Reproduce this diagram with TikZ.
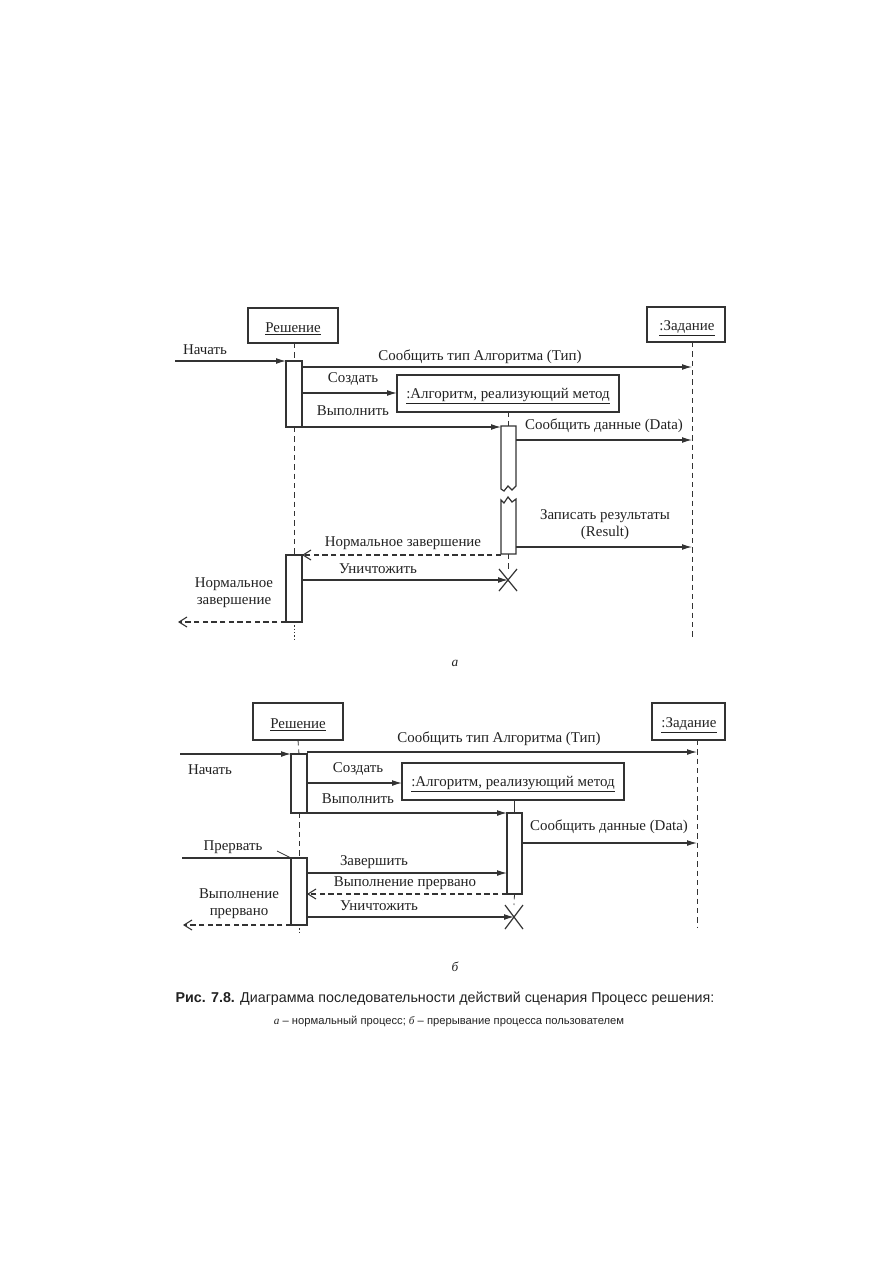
\documentclass[tikz,border=0pt]{standalone}
\usepackage{fontspec}
\setmainfont{Liberation Serif}
\newfontfamily\capfont{Liberation Sans}
\usetikzlibrary{arrows.meta,calc}
\definecolor{ink}{HTML}{333333}
\definecolor{txt}{HTML}{222222}
\begin{document}
\begin{tikzpicture}[x=0.75pt,y=-0.75pt,
  every node/.style={inner sep=0pt,outer sep=0pt,text=txt},
  lbl/.style={font=\fontsize{11.2}{12.6}\selectfont},
  objbox/.style={draw=ink,line width=1pt,font=\fontsize{11.2}{12.6}\selectfont},
  objtext/.style={font=\fontsize{11.2}{12.6}\selectfont},
  actbox/.style={draw=ink,line width=0.9pt,fill=white},
  msg/.style={draw=ink,line width=0.8pt,-{Latex[length=7.5pt,width=4.4pt]}},
  ret/.style={draw=ink,line width=0.8pt,dashed,dash pattern=on 4pt off 2.5pt,-{Straight Barb[length=6pt,width=7.5pt]}},
  plain/.style={draw=ink,line width=0.8pt},
  life/.style={draw=ink,line width=0.6pt,dash pattern=on 4pt off 3pt},
  dotlife/.style={draw=ink,line width=0.6pt,dash pattern=on 1pt off 1.5pt},
  killx/.style={draw=ink,line width=0.9pt},
  sublbl/.style={font=\fontsize{10}{12}\selectfont\itshape}
]
\useasboundingbox[fill=white] (0,0) rectangle (893,1263);

% ================= Diagram a =================
\node[objbox,minimum width=90*0.75pt,minimum height=35*0.75pt] (aR) at (293,325.5) {};
\node[objtext] (aRt) at (293,329) {\underline{Решение}};
\node[objbox,minimum width=78*0.75pt,minimum height=35*0.75pt] (aZ) at (686,324.5) {};
\node[objtext] (aZt) at (687,328) {\underline{:Задание}};
\node[objbox,minimum width=222*0.75pt,minimum height=37*0.75pt] (aA) at (508,393.5) {};
\node[objtext] (aAt) at (508,396) {\underline{:Алгоритм, реализующий метод}};

% lifelines
\coordinate (aZend) at (692,638);
\draw[life] (aZ.south -| aZend) -- (aZend);

% activations
\node[actbox,minimum width=16*0.75pt,minimum height=66*0.75pt] (aAct1) at (294,394) {};
\node[actbox,minimum width=16*0.75pt,minimum height=67*0.75pt] (aAct2) at (294,588.5) {};
\draw[life] (aR.south -| aAct1) -- (aAct1.north);
\draw[life] (aAct1.south) -- (aAct2.north);
\coordinate (aRend) at (294,640);
\draw[dotlife] (aAct2.south) -- (aRend);

% algorithm activation with break
\draw[actbox] (501,426) -- (516,426) -- (516,486) -- (512,490) -- (508,486) -- (504,491) -- (501,489) -- cycle;
\draw[actbox] (501,554) -- (516,554) -- (516,499) -- (512,502) -- (508,497) -- (504,503) -- (501,500) -- cycle;
\coordinate (aAtop) at (508,426);
\draw[life] (aA.south) -- (aAtop);
\coordinate (aX) at (508,580);
\draw[life] (508,554) -- (508,569);
\draw[killx] ($(aX)+(-9,-11)$) -- ($(aX)+(9,11)$);
\draw[killx] ($(aX)+(9,-11)$) -- ($(aX)+(-9,11)$);

% messages
\coordinate (aIn) at (175,361);
\draw[msg] (aIn) -- (aAct1.north west);
\node[lbl] (aL1) at (205,350) {Начать};

\coordinate (aM1s) at (302,367);
\coordinate (aM1e) at (692,367);
\draw[msg] (aM1s) -- (aM1e);
\node[lbl] (aL2) at (480,357) {Сообщить тип Алгоритма (Тип)};

\coordinate (aM2s) at (302,393);
\draw[msg] (aM2s) -- (aA.west |- aM2s);
\node[lbl] (aL3) at (353,379) {Создать};

\coordinate (aM3s) at (302,427);
\coordinate (aM3e) at (501,427);
\draw[msg] (aM3s) -- (aM3e);
\node[lbl] (aL4) at (353,411) {Выполнить};

\coordinate (aM4s) at (516,440);
\coordinate (aM4e) at (692,440);
\draw[msg] (aM4s) -- (aM4e);
\node[lbl] (aL5) at (604,426) {Сообщить данные (Data)};

\coordinate (aM5s) at (516,547);
\coordinate (aM5e) at (692,547);
\draw[msg] (aM5s) -- (aM5e);
\node[lbl,align=center] (aL6) at (605,525) {Записать результаты\\(Result)};

\coordinate (aM6s) at (501,555);
\draw[ret] (aM6s) -- (aAct2.north east);
\node[lbl] (aL7) at (403,543) {Нормальное завершение};

\coordinate (aM7s) at (302,580);
\draw[msg] (aM7s) -- (aX);
\node[lbl] (aL8) at (378,569) {Уничтожить};

\coordinate (aOut) at (178,622);
\draw[ret] (aAct2.south west) -- (aOut);
\node[lbl,align=center] (aL9) at (234,593) {Нормальное\\завершение};

\node[sublbl] (aCap) at (455,663) {а};

% ================= Diagram b =================
\node[objbox,minimum width=90*0.75pt,minimum height=37*0.75pt] (bR) at (298,721.5) {};
\node[objtext] (bRt) at (298,725) {\underline{Решение}};
\node[objbox,minimum width=73*0.75pt,minimum height=37*0.75pt] (bZ) at (688.5,721.5) {};
\node[objtext] (bZt) at (689,725) {\underline{:Задание}};
\node[objbox,minimum width=222*0.75pt,minimum height=37*0.75pt] (bA) at (513,781.5) {};
\node[objtext] (bAt) at (513,784) {\underline{:Алгоритм, реализующий метод}};

\coordinate (bZend) at (697,927);
\draw[life] (bZ.south -| bZend) -- (bZend);

\node[actbox,minimum width=16*0.75pt,minimum height=59*0.75pt] (bAct1) at (299,783.5) {};
\node[actbox,minimum width=16*0.75pt,minimum height=67*0.75pt] (bAct2) at (299,891.5) {};
\draw[life] (bR.south) -- (bAct1.north);
\draw[life] (bAct1.south) -- (bAct2.north);
\coordinate (bRend) at (299,932);
\draw[dotlife] (bAct2.south) -- (bRend);

\node[actbox,minimum width=15*0.75pt,minimum height=81*0.75pt] (bAct3) at (514.5,853.5) {};
\draw[plain,line width=0.6pt] (bA.south -| bAct3) -- (bAct3.north);
\coordinate (bX) at (514,917);
\draw[life] (bAct3.south) -- (514,905);
\draw[killx] ($(bX)+(-9,-12)$) -- ($(bX)+(9,12)$);
\draw[killx] ($(bX)+(9,-12)$) -- ($(bX)+(-9,12)$);

\coordinate (bIn) at (180,754);
\draw[msg] (bIn) -- (bAct1.north west);
\node[lbl] (bL1) at (210,770) {Начать};

\coordinate (bM1s) at (307,752);
\coordinate (bM1e) at (697,752);
\draw[msg] (bM1s) -- (bM1e);
\node[lbl] (bL2) at (499,739) {Сообщить тип Алгоритма (Тип)};

\coordinate (bM2s) at (307,783);
\draw[msg] (bM2s) -- (bA.west |- bM2s);
\node[lbl] (bL3) at (358,769) {Создать};

\draw[msg] (bAct1.south east) -- (bAct3.north west);
\node[lbl] (bL4) at (358,799) {Выполнить};

\coordinate (bM4s) at (522,843);
\coordinate (bM4e) at (697,843);
\draw[msg] (bM4s) -- (bM4e);
\node[lbl] (bL5) at (609,827) {Сообщить данные (Data)};

\coordinate (bIn2) at (182,858);
\coordinate (bTick) at (277,851);
\draw[plain] (bIn2) -- (bAct2.north west);
\draw[plain,line width=0.6pt] (bTick) -- (bAct2.north west);
\node[lbl] (bL6) at (233,847) {Прервать};

\coordinate (bM5s) at (307,873);
\coordinate (bM5e) at (507,873);
\draw[msg] (bM5s) -- (bM5e);
\node[lbl] (bL7) at (374,862) {Завершить};

\coordinate (bM6e) at (307,894);
\draw[ret] (bAct3.south west) -- (bM6e);
\node[lbl] (bL8) at (405,883) {Выполнение прервано};

\coordinate (bM7s) at (307,917);
\draw[msg] (bM7s) -- (bX);
\node[lbl] (bL9) at (379,906) {Уничтожить};

\coordinate (bOut) at (183,925);
\draw[ret] (bAct2.south west) -- (bOut);
\node[lbl,align=center] (bL10) at (239,904) {Выполнение\\прервано};

\node[sublbl] (bCap) at (455,967) {б};

% ================= Caption =================
\node[font=\capfont\fontsize{10.7}{13}\selectfont] (cap1) at (445,999) {\textbf{Рис. 7.8.} Диаграмма последовательности действий сценария Процесс решения:};
\node[font=\capfont\fontsize{8.4}{10}\selectfont] (cap2) at (449,1021) {{\rmfamily\itshape а} – нормальный процесс; {\rmfamily\itshape б} – прерывание процесса пользователем};
\end{tikzpicture}
\end{document}
